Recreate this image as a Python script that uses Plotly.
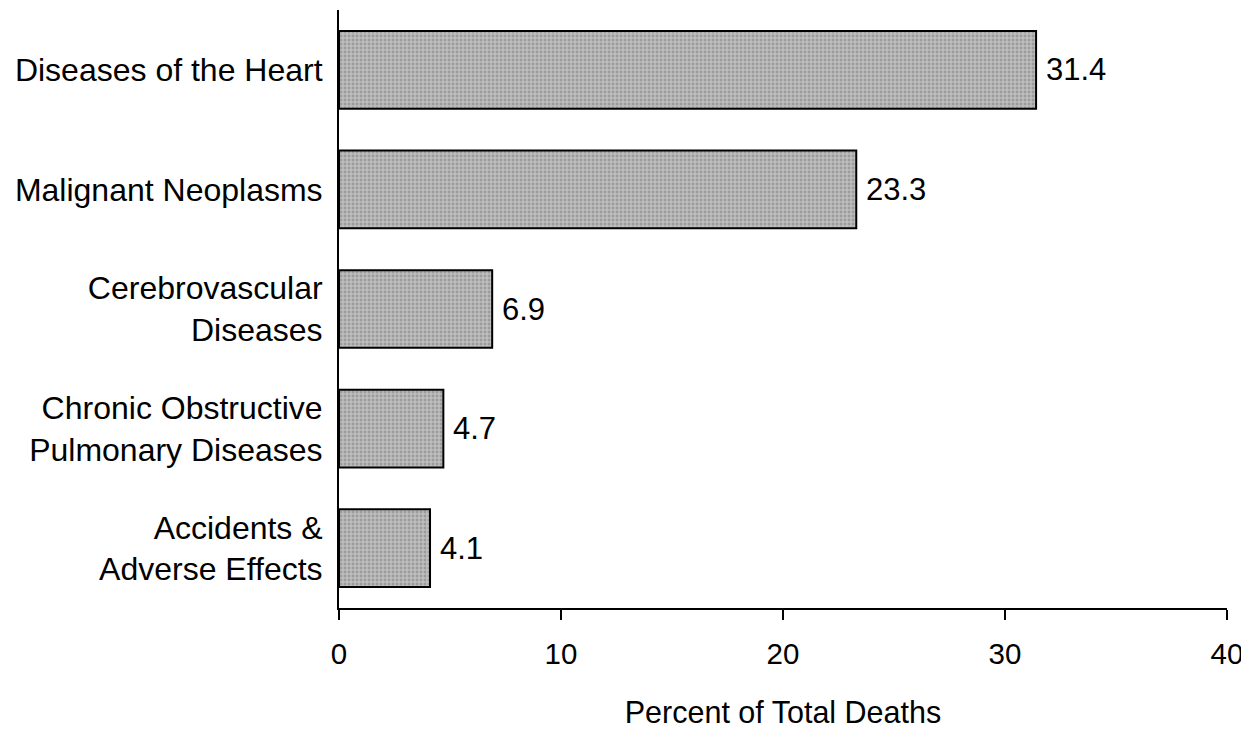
import plotly.graph_objects as go

categories = [
    "Diseases of the Heart",
    "Malignant Neoplasms",
    "Cerebrovascular<br>Diseases",
    "Chronic Obstructive<br>Pulmonary Diseases",
    "Accidents &<br>Adverse Effects",
]
values = [31.4, 23.3, 6.9, 4.7, 4.1]
value_labels = ["31.4", "23.3", "6.9", "4.7", "4.1"]
x_ticks = [0, 10, 20, 30, 40]
x_title = "Percent of Total Deaths"

FONT = "Liberation Sans, Arial, sans-serif"

fig = go.Figure()
fig.add_trace(go.Bar(
    x=values,
    y=categories,
    orientation="h",
    marker=dict(
        color="#a9a9a9",
        line=dict(color="black", width=2),
        pattern=dict(shape=".", fgcolor="#7a7a7a", bgcolor="#bdbdbd", size=4, solidity=0.4),
    ),
    hoverinfo="skip",
))

for v, c, t in zip(values, categories, value_labels):
    fig.add_annotation(
        x=v, y=c, text=t, showarrow=False, xanchor="left", yanchor="middle",
        xshift=8, font=dict(family=FONT, size=31, color="black"),
    )

fig.update_layout(
    width=1241, height=724,
    margin=dict(l=331, r=22, t=2, b=124, autoexpand=False),
    paper_bgcolor="white", plot_bgcolor="white",
    bargap=0.35,
    showlegend=False,
    font=dict(family=FONT, size=30, color="black"),
)
fig.update_xaxes(
    range=[0, 40], tickvals=x_ticks, ticktext=[str(t) for t in x_ticks],
    showline=True, linecolor="black", linewidth=2,
    ticks="outside", ticklen=10, tickwidth=2, tickcolor="black",
    showgrid=False, zeroline=False, automargin=False,
    ticklabelstandoff=9, ticklabeloverflow="allow",
    title=dict(text=x_title, font=dict(family=FONT, size=30.5, color="black"), standoff=32),
    tickfont=dict(family=FONT, size=29.5, color="black"),
)
fig.update_yaxes(
    autorange="reversed",
    showline=True, linecolor="black", linewidth=2,
    ticks="", showgrid=False, zeroline=False, automargin=False,
    ticklabelstandoff=8,
    tickfont=dict(family=FONT, size=32, color="black"),
)

fig.write_html("out.html")
